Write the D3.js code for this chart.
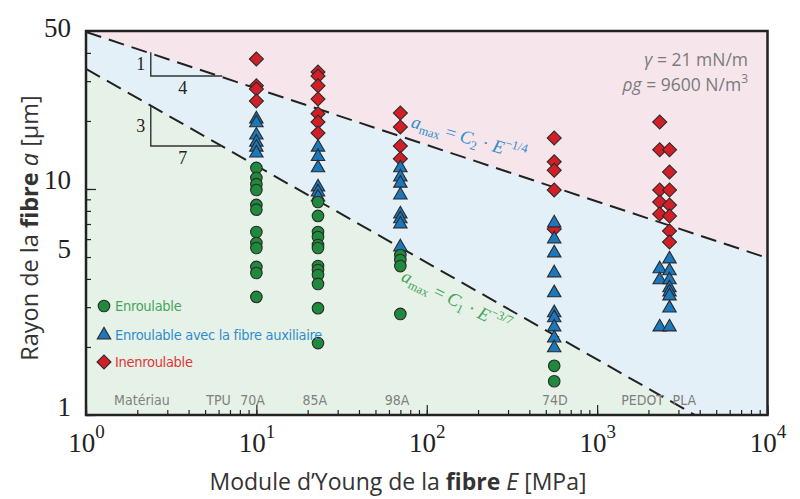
<!DOCTYPE html>
<html>
<head>
<meta charset="utf-8">
<script src="https://cdn.jsdelivr.net/npm/d3@7"></script>
<style>
  body { margin: 0; background: #fff; }
  svg { display: block; }
</style>
</head>
<body>
<div id="box-chart"></div>
<script>
const width = 800, height = 499;
const margin = { top: 31, right: 33, bottom: 84, left: 86 };

// module d'Young de chaque colonne de mesures [MPa] : 70A, 85A, 98A, 74D, PEDOT, PLA
const columnE = [10, 23, 70, 560, 2330, 2660];

// rayon de la fibre a [µm], une liste par colonne
const enroulable = [
  [12.4, 11.2, 10.5, 9.9, 8.5, 8.1, 6.45, 5.77, 5.48, 4.52, 4.25, 3.33],
  [8.76, 7.6, 6.45, 6.13, 5.65, 5.48, 4.56, 4.38, 4.16, 3.8, 2.97, 2.08],
  [5.1, 4.85, 4.56, 2.8],
  [1.65, 1.41],
  [],
  []
];
const auxiliaire = [
  [20.4, 19.6, 17.3, 16.1, 15.3, 14.4],
  [15.3, 13.9, 12.4, 10.2, 9.7, 9.2],
  [12.4, 11.3, 10.6, 9.4, 7.75, 7.37, 7.0, 5.54],
  [7.07, 6.01, 5.21, 4.25, 3.47, 2.83, 2.69, 2.45, 2.19, 1.98],
  [4.43, 3.96, 2.45],
  [4.9, 4.34, 3.96, 3.65, 3.5, 3.36, 2.97, 2.45]
];
const inenroulable = [
  [37.6, 28.6, 27.7, 24.5],
  [32.9, 31.6, 28.6, 25.0, 21.5, 19.8, 17.7],
  [21.7, 18.8, 15.5, 13.6],
  [16.8, 13.2, 12.1, 9.9, 6.65],
  [19.8, 14.9, 9.9, 8.76, 7.75],
  [14.9, 11.9, 9.9, 8.5, 7.6, 6.52, 5.83]
];

const materialNames = ['Matériau', 'TPU', '70A', '85A', '98A', '74D', 'PEDOT', 'PLA'];
const materialE = [2.13, 6.0, 9.5, 22, 67, 565, 1850, 3250];

const xMajor = [1, 10, 100, 1000, 10000];
const yMajor = [1, 10];
const yLabels = [1, 5, 10, 50];

// a_max = C * E^-p
const C1 = 34, P1 = 3 / 7;
const C2 = 49.5, P2 = 1 / 4;

const legendLabels = ['Enroulable', 'Enroulable avec la fibre auxiliaire', 'Inenroulable'];

const colors = {
  pink: '#f6e6ec', blue: '#e4f0f7', green: '#e6f2e7',
  circle: '#1f8a3c', triangle: '#1c78bd', diamond: '#d21f27',
  txtGreen: '#45a45c', txtBlue: '#2f8ccf', txtRed: '#e03339'
};

const x = d3.scaleLog()
  .domain([1, 1e4])
  .range([margin.left, width - margin.right + 0.5]);
const y = d3.scaleLog()
  .domain([1, 50])
  .range([height - margin.bottom, margin.top]);

const svg = d3.select('#box-chart').append('svg')
  .attr('width', width)
  .attr('height', height);

svg.append('clipPath').attr('id', 'clip')
  .append('rect')
  .attr('x', x(1)).attr('y', y(50))
  .attr('width', x(1e4) - x(1)).attr('height', y(1) - y(50));

const plot = svg.append('g').attr('clip-path', 'url(#clip)');

// zones colorées
plot.append('rect')
  .attr('x', x(1)).attr('y', y(50))
  .attr('width', x(1e4) - x(1)).attr('height', y(1) - y(50))
  .attr('fill', colors.pink);

const amax = (C, p) => (E) => C * Math.pow(E, -p);
const zone = (C, p) => d3.area()
  .x((d) => x(d))
  .y0(y(1))
  .y1((d) => y(amax(C, p)(d)));

plot.append('path').datum([1, 1e4]).attr('d', zone(C2, P2)).attr('fill', colors.blue);
plot.append('path').datum([1, 1e4]).attr('d', zone(C1, P1)).attr('fill', colors.green);

const limit = (C, p) => d3.line()
  .x((d) => x(d))
  .y((d) => y(amax(C, p)(d)));

[[C2, P2], [C1, P1]].forEach(([C, p]) => {
  plot.append('path')
    .datum([1, 1e4])
    .attr('d', limit(C, p))
    .attr('fill', 'none')
    .attr('stroke', '#222')
    .attr('stroke-width', 2)
    .attr('stroke-dasharray', '16,8');
});

// triangles de pente
const slopes = [
  { E0: 2.4, a0: 31.6, run: 0.42, p: 1 / 4, top: '1', bottom: '4' },
  { E0: 2.4, a0: 15.5, run: 0.42, p: 3 / 7, top: '3', bottom: '7' }
];
slopes.forEach((s) => {
  const E1 = s.E0 * Math.pow(10, s.run);
  const a1 = s.a0 * Math.pow(10, s.run * s.p);
  svg.append('path')
    .attr('d', 'M' + x(s.E0) + ',' + y(a1) + 'L' + x(s.E0) + ',' + y(s.a0) + 'L' + x(E1) + ',' + y(s.a0))
    .attr('fill', 'none')
    .attr('stroke', '#333')
    .attr('stroke-width', 1.4);
  svg.append('text')
    .attr('x', x(s.E0) - 10).attr('y', (y(a1) + y(s.a0)) / 2 + 6)
    .attr('text-anchor', 'middle')
    .style('font', '18px "Liberation Serif", serif').attr('fill', '#222')
    .text(s.top);
  svg.append('text')
    .attr('x', x(s.E0) + 32).attr('y', y(s.a0) + 18)
    .attr('text-anchor', 'middle')
    .style('font', '18px "Liberation Serif", serif').attr('fill', '#222')
    .text(s.bottom);
});

// formules
const formula = (g, sub, sup, color) => {
  g.style('font', 'italic 18.5px "Liberation Serif", serif').attr('fill', color);
  g.append('tspan').text('a');
  g.append('tspan').attr('dy', 4).style('font-style', 'normal').style('font-size', '12.5px').text('max');
  g.append('tspan').attr('dy', -4).style('font-style', 'normal').text(' = ');
  g.append('tspan').text('C');
  g.append('tspan').attr('dy', 4).style('font-style', 'normal').style('font-size', '12.5px').text(sub);
  g.append('tspan').attr('dy', -4).style('font-style', 'normal').text(' · ');
  g.append('tspan').text('E');
  g.append('tspan').attr('dy', -8).style('font-style', 'normal').style('font-size', '12.5px').text(sup);
};
svg.append('text')
  .attr('transform', 'translate(' + x(80) + ',' + y(18.8) + ') rotate(16.5)')
  .call(formula, '2', '−1/4', colors.txtBlue);
svg.append('text')
  .attr('transform', 'translate(' + x(70) + ',' + y(3.95) + ') rotate(26)')
  .call(formula, '1', '−3/7', colors.txtGreen);

// paramètres
const params = svg.append('g')
  .style('font', '17.5px "Open Sans", sans-serif')
  .attr('fill', '#7a7a7a')
  .attr('text-anchor', 'end');
const p1 = params.append('text').attr('x', 748).attr('y', 66);
p1.append('tspan').style('font-style', 'italic').text('γ');
p1.append('tspan').text(' = 21 mN/m');
const p2 = params.append('text').attr('x', 748).attr('y', 91);
p2.append('tspan').style('font-style', 'italic').text('ρg');
p2.append('tspan').text(' = 9600 N/m');
p2.append('tspan').attr('dy', -8).style('font-size', '12px').text('3');

// matériaux
svg.selectAll('.mat')
  .data(materialNames)
  .enter().append('text')
  .attr('class', 'mat')
  .attr('x', (d, i) => x(materialE[i]))
  .attr('y', 405)
  .attr('text-anchor', 'middle')
  .style('font', '14px "Liberation Sans Narrow", "DejaVu Sans Condensed", sans-serif')
  .attr('fill', '#808080')
  .text((d) => d);

// points
const flat = (arr) => arr.flatMap((col, i) => col.map((a) => ({ E: columnE[i], a: a })));

const circle = d3.symbol().type(d3.symbolCircle).size(105);
const triangle = d3.symbol().type(d3.symbolTriangle).size(78);
const diamond = d3.symbol().type(d3.symbolSquare).size(98);

const series = [
  { data: flat(inenroulable), path: diamond(), color: colors.diamond, rot: 45 },
  { data: flat(auxiliaire), path: triangle(), color: colors.triangle, rot: 0 },
  { data: flat(enroulable), path: circle(), color: colors.circle, rot: 0 }
];

series.forEach((item) => {
  svg.append('g').selectAll('path')
    .data(item.data)
    .enter().append('path')
    .attr('d', item.path)
    .attr('transform', (d) => 'translate(' + x(d.E) + ',' + y(d.a) + ') rotate(' + item.rot + ')')
    .attr('fill', item.color)
    .attr('stroke', '#2a2a2a')
    .attr('stroke-width', 1.1);
});

// légende
const legendItems = [
  { path: circle(), color: colors.circle, txt: colors.txtGreen, rot: 0, y: 306 },
  { path: triangle(), color: colors.triangle, txt: colors.txtBlue, rot: 0, y: 335 },
  { path: diamond(), color: colors.diamond, txt: colors.txtRed, rot: 45, y: 362 }
];
legendItems.forEach((d, i) => {
  svg.append('path')
    .attr('d', d.path)
    .attr('transform', 'translate(104,' + d.y + ') rotate(' + d.rot + ')')
    .attr('fill', d.color)
    .attr('stroke', '#2a2a2a')
    .attr('stroke-width', 1.1);
  svg.append('text')
    .attr('x', 115).attr('y', d.y + 5)
    .style('font', '14.5px "Liberation Sans Narrow", "DejaVu Sans Condensed", sans-serif')
    .style('letter-spacing', '-0.3px')
    .attr('fill', d.txt)
    .text(legendLabels[i]);
});

// axes
const axisX = svg.append('g').attr('transform', 'translate(0,' + y(1) + ')');
axisX.call(d3.axisBottom(x).tickSize(-5).tickFormat(''));
const majorX = axisX.append('g').call(d3.axisBottom(x).tickValues(xMajor).tickSize(-10)
  .tickFormat((d) => Math.round(Math.log10(d))));
majorX.selectAll('text').each(function () {
  const t = d3.select(this);
  const p = t.text();
  t.text(null).attr('dy', 0).attr('y', 37)
    .style('font', '27px "Liberation Serif", serif').attr('fill', '#222');
  t.append('tspan').text('10');
  t.append('tspan').attr('dy', -14).style('font-size', '19px').text(p);
});

const axisY = svg.append('g').attr('transform', 'translate(' + x(1) + ',0)');
axisY.call(d3.axisLeft(y).tickSize(-5).tickFormat(''));
axisY.append('g').call(d3.axisLeft(y).tickValues(yMajor).tickSize(-10).tickFormat(''));
const labelsY = axisY.append('g').call(d3.axisLeft(y).tickValues(yLabels).tickSize(0).tickPadding(15)
  .tickFormat(d3.format('d')));
labelsY.selectAll('text').attr('dy', (d) => (d === 50 ? 5 : 0))
  .style('font', '27px "Liberation Serif", serif').attr('fill', '#222');

svg.selectAll('.domain').remove();
svg.selectAll('.tick line').attr('stroke', '#222').attr('stroke-width', 1.2);

// cadre
svg.append('rect')
  .attr('x', x(1)).attr('y', y(50))
  .attr('width', x(1e4) - x(1)).attr('height', y(1) - y(50))
  .attr('fill', 'none')
  .attr('stroke', '#222')
  .attr('stroke-width', 2.5);

// titres
const xt = svg.append('text')
  .attr('x', 398).attr('y', 490)
  .attr('text-anchor', 'middle')
  .style('font', '23px "Open Sans", sans-serif').attr('fill', '#333');
xt.append('tspan').text('Module d’Young de la ');
xt.append('tspan').style('font-weight', 'bold').text('fibre');
xt.append('tspan').text(' ');
xt.append('tspan').style('font-style', 'italic').text('E');
xt.append('tspan').text(' [MPa]');

const yt = svg.append('text')
  .attr('transform', 'translate(38,228) rotate(-90)')
  .attr('text-anchor', 'middle')
  .style('font', '23.5px "Open Sans", sans-serif').attr('fill', '#333');
yt.append('tspan').text('Rayon de la ');
yt.append('tspan').style('font-weight', 'bold').text('fibre');
yt.append('tspan').text(' ');
yt.append('tspan').style('font-style', 'italic').text('a');
yt.append('tspan').text(' [µm]');
</script>
</body>
</html>
